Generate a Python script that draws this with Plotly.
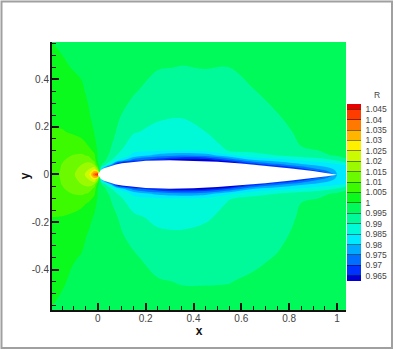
import numpy as np
import plotly.graph_objects as go

x_nodes = [-0.192,-0.15,-0.11,-0.07,-0.04,-0.015,0,0.015,0.04,0.08,0.15,0.25,0.35,0.45,0.55,0.65,0.75,0.85,0.95,1.0,1.038]
y_nodes = [0.557,0.45,0.35,0.25,0.18,0.12,0.10,0.08,0.06,0.04,0.02,0,-0.02,-0.04,-0.06,-0.08,-0.10,-0.12,-0.18,-0.25,-0.35,-0.45,-0.57]

# R, one list per x node, y from top to bottom
r_columns = [
 [1.0000,1.0020,1.0032,1.0043,1.0052,1.0062,1.0066,1.0070,1.0073,1.0076,1.0078,1.0080,1.0078,1.0076,1.0073,1.0069,1.0065,1.0060,1.0050,1.0040,1.0028,1.0014,0.9998],
 [0.9993,1.0007,1.0025,1.0040,1.0052,1.0065,1.0075,1.0085,1.0095,1.0102,1.0105,1.0108,1.0105,1.0102,1.0095,1.0085,1.0075,1.0063,1.0049,1.0035,1.0018,1.0006,0.9988],
 [0.9985,0.9999,1.0015,1.0035,1.0047,1.0065,1.0080,1.0100,1.0115,1.0125,1.0132,1.0137,1.0132,1.0125,1.0115,1.0100,1.0080,1.0063,1.0045,1.0028,1.0005,0.9993,0.9983],
 [0.9980,0.9993,1.0007,1.0028,1.0042,1.0060,1.0085,1.0108,1.0130,1.0150,1.0165,1.0175,1.0165,1.0150,1.0130,1.0108,1.0085,1.0058,1.0037,1.0015,0.9997,0.9987,0.9978],
 [0.9975,0.9985,0.9993,1.0005,1.0028,1.0050,1.0068,1.0095,1.0135,1.0168,1.0200,1.0225,1.0200,1.0168,1.0135,1.0095,1.0068,1.0048,1.0018,0.9997,0.9985,0.9977,0.9972],
 [0.9970,0.9975,0.9980,0.9988,0.9998,1.0020,1.0040,1.0060,1.0085,1.0150,1.0265,1.0390,1.0265,1.0150,1.0085,1.0060,1.0040,1.0018,0.9994,0.9985,0.9977,0.9972,0.9968],
 [0.9968,0.9970,0.9973,0.9978,0.9983,0.9988,0.9992,0.9995,0.9998,1.0020,1.0150,1.0470,1.0150,1.0020,0.9998,0.9995,0.9992,0.9987,0.9982,0.9977,0.9972,0.9969,0.9967],
 [0.9965,0.9966,0.9967,0.9969,0.9972,0.9975,0.9977,0.9980,0.9975,0.9950,0.9800,0.9600,0.9800,0.9950,0.9975,0.9980,0.9977,0.9974,0.9971,0.9968,0.9966,0.9965,0.9964],
 [0.9962,0.9962,0.9962,0.9963,0.9965,0.9968,0.9965,0.9955,0.9940,0.9870,0.9500,0.9400,0.9500,0.9870,0.9940,0.9955,0.9965,0.9967,0.9964,0.9963,0.9962,0.9962,0.9962],
 [0.9960,0.9960,0.9957,0.9955,0.9948,0.9925,0.9912,0.9898,0.9850,0.9600,0.9450,0.9400,0.9450,0.9600,0.9850,0.9900,0.9918,0.9930,0.9952,0.9957,0.9960,0.9961,0.9962],
 [0.9965,0.9958,0.9953,0.9935,0.9905,0.9870,0.9860,0.9835,0.9720,0.9500,0.9400,0.9400,0.9400,0.9500,0.9720,0.9835,0.9862,0.9875,0.9912,0.9938,0.9955,0.9963,0.9966],
 [0.9965,0.9952,0.9935,0.9910,0.9885,0.9865,0.9855,0.9780,0.9655,0.9500,0.9400,0.9400,0.9400,0.9500,0.9655,0.9780,0.9855,0.9865,0.9885,0.9910,0.9935,0.9953,0.9965],
 [0.9963,0.9949,0.9925,0.9903,0.9888,0.9866,0.9852,0.9750,0.9610,0.9500,0.9400,0.9400,0.9400,0.9500,0.9620,0.9755,0.9852,0.9866,0.9885,0.9905,0.9928,0.9948,0.9963],
 [0.9962,0.9951,0.9935,0.9920,0.9900,0.9875,0.9860,0.9770,0.9615,0.9500,0.9400,0.9400,0.9400,0.9500,0.9625,0.9775,0.9860,0.9868,0.9892,0.9915,0.9932,0.9948,0.9962],
 [0.9962,0.9950,0.9938,0.9925,0.9915,0.9912,0.9905,0.9835,0.9700,0.9500,0.9400,0.9400,0.9400,0.9500,0.9700,0.9835,0.9897,0.9905,0.9918,0.9928,0.9938,0.9949,0.9962],
 [0.9962,0.9958,0.9949,0.9937,0.9930,0.9920,0.9910,0.9885,0.9795,0.9650,0.9500,0.9400,0.9500,0.9650,0.9795,0.9885,0.9910,0.9920,0.9925,0.9933,0.9943,0.9955,0.9962],
 [0.9962,0.9960,0.9957,0.9949,0.9938,0.9925,0.9912,0.9900,0.9830,0.9725,0.9550,0.9450,0.9550,0.9725,0.9830,0.9900,0.9912,0.9925,0.9932,0.9942,0.9952,0.9958,0.9962],
 [0.9962,0.9962,0.9961,0.9960,0.9957,0.9950,0.9935,0.9920,0.9855,0.9785,0.9660,0.9500,0.9660,0.9785,0.9855,0.9920,0.9935,0.9950,0.9955,0.9958,0.9960,0.9961,0.9962],
 [0.9962,0.9962,0.9962,0.9961,0.9960,0.9957,0.9955,0.9945,0.9880,0.9820,0.9765,0.9650,0.9765,0.9820,0.9880,0.9945,0.9955,0.9957,0.9960,0.9961,0.9962,0.9962,0.9962],
 [0.9962,0.9962,0.9962,0.9961,0.9960,0.9958,0.9957,0.9955,0.9905,0.9835,0.9810,0.9800,0.9810,0.9835,0.9905,0.9955,0.9957,0.9958,0.9960,0.9961,0.9962,0.9962,0.9962],
 [0.9962,0.9962,0.9962,0.9961,0.9960,0.9959,0.9958,0.9958,0.9945,0.9850,0.9820,0.9810,0.9820,0.9850,0.9945,0.9958,0.9958,0.9959,0.9960,0.9961,0.9962,0.9962,0.9962],
]

airfoil_x = [0,0.0125,0.025,0.05,0.075,0.1,0.15,0.2,0.3,0.4,0.5,0.6,0.7,0.8,0.9,0.95,1.0]
airfoil_upper = [0,0.0189,0.0262,0.0356,0.042,0.0468,0.0534,0.0574,0.06,0.058,0.0529,0.0456,0.0366,0.0262,0.0145,0.0081,0.0013]
airfoil_lower = [0,-0.0189,-0.0262,-0.0356,-0.042,-0.0468,-0.0534,-0.0574,-0.06,-0.058,-0.0529,-0.0456,-0.0366,-0.0262,-0.0145,-0.0081,-0.0013]

level_labels = ["0.965","0.97","0.975","0.98","0.985","0.99","0.995","1","1.005","1.01","1.015","1.02","1.025","1.03","1.035","1.04","1.045"]
level_values = [0.965,0.97,0.975,0.98,0.985,0.99,0.995,1.0,1.005,1.01,1.015,1.02,1.025,1.03,1.035,1.04,1.045]
band_colors = ["#0000d2","#0032ff","#006eff","#00aaff","#00eaff","#00fad8","#00fa9a","#00fa5a",
               "#0afa1e","#3cfa00","#6cfa00","#9cfa00","#ccfa00","#fff000","#ffb400","#ff7800","#ff3c00","#e60000"]

W, H = 395, 350
ML, MR, MT, MB = 52, 49, 42, 40
PW, PH = W-ML-MR, H-MT-MB
TICK = "#444444"
FONT = "Liberation Sans, Arial, sans-serif"

z = np.array(r_columns).T
scale = [[i/(len(band_colors)-1), c] for i, c in enumerate(band_colors)]

fig = go.Figure()
fig.add_trace(go.Contour(
    x=x_nodes, y=y_nodes, z=z, colorscale=scale,
    autocontour=False,
    contours=dict(start=level_values[0], end=level_values[-1], size=0.005, coloring="fill", showlines=False),
    line=dict(width=0),
    hoverinfo="skip",
    colorbar=dict(
        x=(347-ML)/PW, xanchor="left", xpad=0, ypad=0,
        y=(H-MB-104)/PH, yanchor="top",
        thickness=14, thicknessmode="pixels",
        len=177, lenmode="pixels",
        outlinewidth=0, borderwidth=0,
        tickmode="array", tickvals=level_values, ticktext=["\u00a0" + s for s in level_labels],
        ticks="inside", ticklen=14, tickwidth=1, tickcolor="rgba(0,0,0,0.45)",
        tickfont=dict(family=FONT, size=8.5, color=TICK),
    ),
))
fig.add_trace(go.Scatter(
    x=airfoil_x + airfoil_x[::-1], y=airfoil_upper + airfoil_lower[::-1],
    mode="lines", fill="toself", fillcolor="white", line=dict(width=0, color="white"),
    hoverinfo="skip", showlegend=False,
))

def axis(title, dtick, rng, fmt_vals, fmt_text, off):
    return dict(
        range=rng, title=dict(text="<b>%s</b>" % title, font=dict(family=FONT, size=12, color="#111111"), standoff=0),
        tickmode="array", tickvals=fmt_vals, ticktext=fmt_text,
        ticks="inside", ticklen=7, tickwidth=2, tickcolor="#111111",
        minor=dict(dtick=dtick, ticks="inside", ticklen=4, tickwidth=1, tickcolor="#111111"),
        showline=True, linewidth=2, linecolor="#111111", mirror=False,
        showgrid=False, zeroline=False, automargin=False, ticklabelstandoff=off,
        tickfont=dict(family=FONT, size=10, color=TICK),
    )

fig.update_layout(
    width=W, height=H, margin=dict(l=ML, r=MR, t=MT, b=MB, autoexpand=False),
    paper_bgcolor="white", plot_bgcolor="white", showlegend=False,
    xaxis=axis("x", 0.05, [-0.192, 1.038], [0,0.2,0.4,0.6,0.8,1], ["0","0.2","0.4","0.6","0.8","1"], -2),
    yaxis=axis("y", 0.05, [-0.57, 0.557], [-0.4,-0.2,0,0.2,0.4], ["-0.4","-0.2","0","0.2","0.4"], -1),
    shapes=[dict(type="rect", xref="paper", yref="paper",
                 x0=(1.5-ML)/PW, x1=(392-ML)/PW, y0=(H-MB-348)/PH, y1=(H-MB-1.5)/PH,
                 line=dict(color="#a0a0a0", width=2), fillcolor="rgba(0,0,0,0)", layer="below")],
    annotations=[dict(text="R", xref="paper", yref="paper", x=(377-ML)/PW, y=(H-MB-95)/PH,
                      xanchor="center", yanchor="middle",
                      showarrow=False, font=dict(family=FONT, size=8.5, color=TICK))],
)
fig.write_html("out.html", post_script="document.body.style.margin='0';", config=dict(displayModeBar=False))
